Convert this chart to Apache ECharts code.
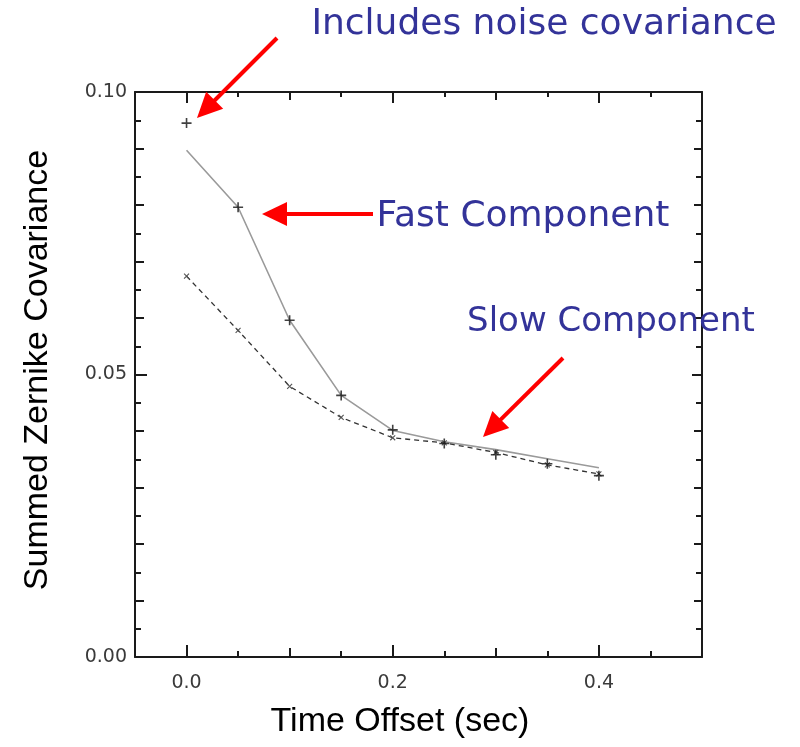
<!DOCTYPE html>
<html>
<head>
<meta charset="utf-8">
<script src="https://cdn.jsdelivr.net/npm/echarts@6/dist/echarts.min.js"></script>
<style>html,body{margin:0;padding:0;background:#fff}#c{width:800px;height:747px}</style>
</head>
<body>
<div id="c"></div>
<script>
const timeOffsets = [0, 0.05, 0.1, 0.15, 0.2, 0.25, 0.3, 0.35, 0.4];
const measured   = [0.0945, 0.0796, 0.0596, 0.0463, 0.0402, 0.0378, 0.0358, 0.0342, 0.0321];
const fastComp   = [0.0897, 0.0796, 0.0596, 0.0463, 0.0401, 0.0381, 0.0367, 0.0351, 0.0335];
const slowComp   = [0.0674, 0.0578, 0.0479, 0.0424, 0.0388, 0.0379, 0.0362, 0.0340, 0.0324];

const xTickLabels = [0, 0.2, 0.4];
const xMidTicks   = [0.1, 0.3];
const xMinorTicks = [0.05, 0.15, 0.25, 0.35, 0.45];
const yTickLabels = [0, 0.05, 0.1];
const yMidTicks   = [0.01, 0.02, 0.03, 0.04, 0.06, 0.07, 0.08, 0.09];
const yMinorTicks = [0.005, 0.015, 0.025, 0.035, 0.045, 0.055, 0.065, 0.075, 0.085, 0.095];

const xTitle = 'Time Offset (sec)';
const yTitle = 'Summed Zernike Covariance';
const noteNoise = 'Includes noise covariance';
const noteFast = 'Fast Component';
const noteSlow = 'Slow Component';

const X_MIN = -0.05, X_MAX = 0.5, Y_MIN = 0, Y_MAX = 0.1;
const axisColor = '#1a1a1a';
const labelFont = {fontFamily: 'DejaVu Sans', fontSize: 19, color: '#3a3a3a'};

function mkAxis(kind, pos, ticks, len, showLine, labels, digits) {
  const a = {
    type: 'value', position: pos, min: kind === 'x' ? X_MIN : Y_MIN, max: kind === 'x' ? X_MAX : Y_MAX,
    splitLine: {show: false},
    axisLine: {show: showLine, onZero: false, lineStyle: {color: axisColor, width: 2}},
    axisTick: {show: true, inside: true, length: len, customValues: ticks, lineStyle: {color: axisColor, width: 2}},
    axisLabel: {show: false}
  };
  if (labels) {
    a.axisLabel = Object.assign({show: true, customValues: labels, margin: kind === 'x' ? 17 : 8,
      formatter: v => Number(v).toFixed(digits)}, labelFont);
  }
  return a;
}

const xAxes = [
  mkAxis('x', 'bottom', xTickLabels, 12, true, xTickLabels, 1),
  mkAxis('x', 'bottom', xMidTicks, 9, false),
  mkAxis('x', 'bottom', xMinorTicks, 6, false),
  mkAxis('x', 'top', xTickLabels, 11, true),
  mkAxis('x', 'top', xMidTicks, 8, false),
  mkAxis('x', 'top', xMinorTicks, 5, false)
];
const yAxes = [
  mkAxis('y', 'left', yTickLabels, 12, true, yTickLabels, 2),
  mkAxis('y', 'left', yMidTicks, 9, false),
  mkAxis('y', 'left', yMinorTicks, 6, false),
  mkAxis('y', 'right', yTickLabels, 10, true),
  mkAxis('y', 'right', yMidTicks, 8, false),
  mkAxis('y', 'right', yMinorTicks, 6, false)
];

const plusPath = 'path://M4.2,0H5.8V10H4.2Z M0,4.2H10V5.8H0Z';
const pairs = arr => timeOffsets.map((t, i) => [t, arr[i]]);

function arrow(x1, y1, x2, y2) {
  const dx = x2 - x1, dy = y2 - y1, L = Math.hypot(dx, dy);
  const ux = dx / L, uy = dy / L, hl = 25, hw = 12;
  const bx = x2 - ux * hl, by = y2 - uy * hl;
  return [
    {type: 'line', shape: {x1: x1, y1: y1, x2: bx + ux * 2, y2: by + uy * 2}, style: {stroke: '#ff0000', lineWidth: 4}, z: 100},
    {type: 'polygon', shape: {points: [[x2, y2], [bx - uy * hw, by + ux * hw], [bx + uy * hw, by - ux * hw]]}, style: {fill: '#ff0000'}, z: 100}
  ];
}

function note(text, x, y, size) {
  return {type: 'text', x: x, y: y, z: 60,
    style: {text: text, fontFamily: 'DejaVu Sans', fontSize: size, fill: '#333399', align: 'center', verticalAlign: 'middle'}};
}

const chart = echarts.init(document.getElementById('c'), null, {renderer: 'canvas'});
chart.setOption({
  backgroundColor: '#ffffff',
  animation: false,
  grid: {left: 135, top: 92, right: 98, bottom: 90, containLabel: false},
  xAxis: xAxes,
  yAxis: yAxes,
  series: [
    {name: 'Fast Component', type: 'line', xAxisIndex: 0, yAxisIndex: 0, data: pairs(fastComp),
      showSymbol: false, symbol: 'none', lineStyle: {color: '#9a9a9a', width: 1.6}, z: 2},
    {name: 'Slow Component', type: 'line', xAxisIndex: 0, yAxisIndex: 0, data: pairs(slowComp),
      symbol: plusPath, symbolSize: 7, symbolRotate: 45, itemStyle: {color: '#555555'},
      lineStyle: {color: '#333333', width: 1.3, type: [5, 4]}, z: 3},
    {name: 'Measured (includes noise covariance)', type: 'scatter', xAxisIndex: 0, yAxisIndex: 0, data: pairs(measured),
      symbol: plusPath, symbolSize: 10, itemStyle: {color: '#111111'}, z: 4}
  ],
  graphic: [
    {type: 'text', x: 400, y: 722, z: 50,
      style: {text: xTitle, fontFamily: 'Liberation Sans', fontSize: 34, fill: '#000', align: 'center', verticalAlign: 'middle'}},
    {type: 'text', x: 38, y: 370, rotation: Math.PI / 2, z: 50,
      style: {text: yTitle, fontFamily: 'Liberation Sans', fontSize: 34, fill: '#000', align: 'center', verticalAlign: 'middle'}},
    note(noteNoise, 544, 25, 36),
    note(noteFast, 523, 217, 36),
    note(noteSlow, 611, 322, 34)
  ].concat(arrow(277, 38, 197, 118), arrow(373, 214, 262, 214), arrow(563, 358, 483, 437))
});
</script>
</body>
</html>
